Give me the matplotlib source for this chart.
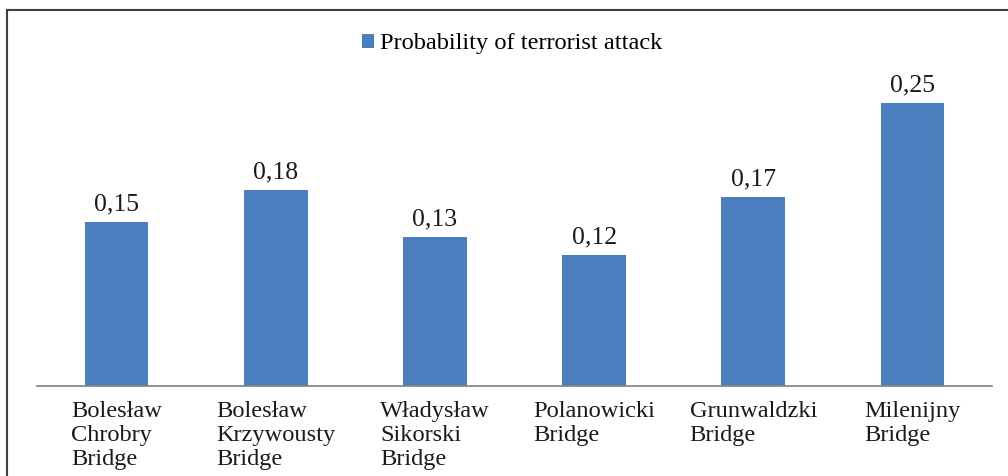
import matplotlib.pyplot as plt
from matplotlib.lines import Line2D

plt.rcParams['font.family'] = ['Liberation Serif', 'DejaVu Serif']

# Data
bridges = ['Bolesław\nChrobry\nBridge', 'Bolesław\nKrzywousty\nBridge',
           'Władysław\nSikorski\nBridge', 'Polanowicki\nBridge',
           'Grunwaldzki\nBridge', 'Milenijny\nBridge']
probability = [0.145, 0.173, 0.132, 0.116, 0.167, 0.25]
value_labels = ['0,15', '0,18', '0,13', '0,12', '0,17', '0,25']

W, H = 1008, 476
fig = plt.figure(figsize=(W / 100, H / 100), dpi=100)

# axes: bottom at y=386 px, 0.30 at top -> 1132 px per unit
ax_bottom = 386
ax_top = ax_bottom - 0.30 * 1132
ax = fig.add_axes([37 / W, (H - ax_bottom) / H, (992 - 37) / W, (ax_bottom - ax_top) / H])

x = range(len(bridges))
bars = ax.bar(x, probability, width=0.4, color='#4a7ebf', label='Probability of terrorist attack')

for b, lab in zip(bars, value_labels):
    ax.annotate(lab, (b.get_x() + b.get_width() / 2, b.get_height()),
                xytext=(0, 4.5), textcoords='offset points',
                ha='center', va='bottom', fontsize=18.5, color='#1a1a1a')

ax.set_xlim(-0.5, 5.5)
ax.set_ylim(0, 0.30)
ax.set_yticks([])
ax.set_xticks(list(x))
ax.set_xticklabels(bridges, fontsize=17.6, color='#1a1a1a', linespacing=1.18,
                   multialignment='left')
ax.tick_params(axis='x', length=0, pad=11)
for s in ['top', 'right', 'left']:
    ax.spines[s].set_visible(False)
ax.spines['bottom'].set_color('#808080')
ax.spines['bottom'].set_linewidth(1.2)

fig.legend(loc='center', bbox_to_anchor=(512 / W, 1 - 44 / H), frameon=False,
           fontsize=17.6, handlelength=0.5, handleheight=0.5, handletextpad=0.25)

# outer frame (left and top edges)
fig.add_artist(Line2D([7 / W, 7 / W], [0, 1 - 10 / H], color='#404040', lw=1.5))
fig.add_artist(Line2D([7 / W, 1], [1 - 10 / H, 1 - 10 / H], color='#404040', lw=1.5))

fig.savefig('out.png', dpi=100)
